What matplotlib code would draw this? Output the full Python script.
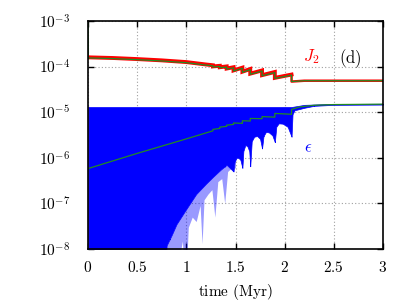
import matplotlib
matplotlib.use('Agg')
import matplotlib.pyplot as plt
import numpy as np

plt.rcParams['mathtext.fontset'] = 'cm'
plt.rcParams['font.family'] = 'serif'
plt.rcParams['font.serif'] = ['DejaVu Serif']

# ---- data ----
# J2 (running mean, green) with sawtooth steps
j2_t = [0.0, 0.003, 0.25, 0.5, 0.75, 1.0, 1.2, 1.27, 1.27, 1.34, 1.34, 1.41, 1.41,
        1.48, 1.48, 1.57, 1.57, 1.65, 1.65, 1.77, 1.77, 1.90, 1.90, 2.07, 2.07,
        2.2, 2.5, 3.0]
j2_v = [1e-3, 1.55e-4, 1.5e-4, 1.42e-4, 1.33e-4, 1.22e-4, 1.08e-4, 1.04e-4, 0.98e-4,
        1.01e-4, 0.94e-4, 0.98e-4, 0.88e-4, 0.94e-4, 0.80e-4, 0.92e-4, 0.75e-4,
        0.86e-4, 0.68e-4, 0.80e-4, 0.63e-4, 0.74e-4, 0.55e-4, 0.65e-4, 0.47e-4,
        0.49e-4, 0.49e-4, 0.49e-4]

# epsilon running mean (green)
eps_t = [0.0, 0.5, 1.0, 1.27, 1.27, 1.34, 1.34, 1.41, 1.41, 1.48, 1.48, 1.57, 1.57,
         1.65, 1.65, 1.77, 1.77, 1.90, 1.90, 2.07, 2.07, 2.15, 2.3, 2.5, 3.0]
eps_v = [5.8e-7, 1.25e-6, 2.6e-6, 3.9e-6, 4.2e-6, 4.4e-6, 4.7e-6, 4.9e-6, 5.2e-6,
         5.4e-6, 5.8e-6, 5.7e-6, 6.5e-6, 6.4e-6, 7.3e-6, 7.2e-6, 8.0e-6, 7.8e-6,
         9.4e-6, 9.0e-6, 1.15e-5, 1.3e-5, 1.42e-5, 1.47e-5, 1.5e-5]

# epsilon oscillation envelope (blue band)
up_t = [0.0, 2.07, 2.2, 2.5, 3.0]
up_v = [1.3e-5, 1.3e-5, 1.45e-5, 1.52e-5, 1.53e-5]
lo_t = [0.0, 0.76, 0.80, 0.85, 0.90, 0.99, 1.10, 1.20, 1.27, 1.35, 1.41, 1.48,
        1.49, 1.51, 1.53, 1.55, 1.57,
        1.58, 1.60, 1.62, 1.64, 1.65,
        1.665, 1.69, 1.72, 1.75, 1.77,
        1.785, 1.81, 1.84, 1.875, 1.90,
        1.915, 1.94, 1.98, 2.03, 2.07,
        2.08, 2.1, 2.2, 2.3, 2.5, 3.0]
lo_v = [1e-9, 1e-9, 1.2e-8, 2e-8, 3.5e-8, 7e-8, 1.6e-7, 2.7e-7, 3.8e-7, 5.5e-7, 7e-7, 5e-7,
        8e-7, 1.0e-6, 1.0e-6, 9e-7, 6e-7,
        1.4e-6, 1.9e-6, 1.8e-6, 1.4e-6, 6.5e-7,
        2.3e-6, 2.9e-6, 3.0e-6, 2.6e-6, 1.6e-6,
        3.0e-6, 3.7e-6, 3.6e-6, 3.1e-6, 2.2e-6,
        4.8e-6, 5.7e-6, 5.6e-6, 4.8e-6, 2.9e-6,
        9e-6, 1.1e-5, 1.25e-5, 1.38e-5, 1.45e-5, 1.47e-5]
# lighter fringe of downward spikes below the dense band
lf_t = [0.72, 0.78, 0.83, 0.88, 0.92, 0.96, 0.99, 1.02, 1.06, 1.10, 1.14, 1.16, 1.18,
        1.22, 1.26, 1.29, 1.32, 1.36, 1.39, 1.42, 1.46, 1.50]
lf_v = [1e-9, 1e-9, 1e-9, 8e-9, 5e-9, 1.5e-8, 1e-9, 3e-8, 5e-8, 4e-8, 9e-8, 1.3e-8,
        1.2e-7, 1.6e-7, 2e-7, 5e-8, 3e-7, 3.5e-7, 1e-7, 5e-7, 6e-7, 6e-7]

xticks = [0, 0.5, 1, 1.5, 2, 2.5, 3]
xticklabels = ['0', '0.5', '1', '1.5', '2', '2.5', '3']
yticks = [1e-8, 1e-7, 1e-6, 1e-5, 1e-4, 1e-3]
yticklabels = ['-8', '-7', '-6', '-5', '-4', '-3']


def logi(t, xp, fp):
    return 10 ** np.interp(t, xp, np.log10(fp))


# ---- figure ----
W, H = 415, 307
fig = plt.figure(figsize=(W / 100, H / 100), dpi=100)
ax = fig.add_axes([88 / W, 1 - 249 / H, (383 - 88) / W, (249 - 21) / H])

blue = '#0000ff'
red = '#ff0000'
green = '#228b22'

tt = np.unique(np.concatenate([np.linspace(0, 3, 3001), lo_t, up_t, lf_t]))
lo = logi(tt, lo_t, lo_v)
up = logi(tt, up_t, up_v)
ax.fill_between(tt, lo, up, color=blue, lw=0.5, edgecolor=blue, zorder=2)

tf = tt[(tt >= lf_t[0]) & (tt <= lf_t[-1])]
lf = np.minimum(logi(tf, lf_t, lf_v), logi(tf, lo_t, lo_v))
ax.fill_between(tf, lf, logi(tf, lo_t, lo_v), color=blue, alpha=0.4, lw=0, zorder=2)
ax.plot([0, 0], [1e-8, 1.3e-5], color='#5030c0', lw=1.0, zorder=2)

j2_t_a = np.array(j2_t)
j2_v_a = np.array(j2_v)
i_drop = len(j2_t) - 5  # index of the last point before the final drop
ax.plot(j2_t_a[1:i_drop + 1], j2_v_a[1:i_drop + 1] * 1.03, color=red, lw=2.8,
        solid_joinstyle='miter', zorder=3)
ax.plot(j2_t_a[i_drop:], j2_v_a[i_drop:], color=red, lw=1.8, zorder=3)
ax.plot(j2_t, j2_v, color=green, lw=0.9, zorder=4)
ax.plot(eps_t, eps_v, color=green, lw=0.9, zorder=4)

ax.set_yscale('log')
ax.set_xlim(0, 3)
ax.set_ylim(1e-8, 1e-3)
ax.set_xticks(xticks)
ax.set_xticklabels(['$' + s + '$' for s in xticklabels])
ax.set_yticks(yticks)
ax.set_yticklabels([r'$10^{' + s + '}$' for s in yticklabels])
ax.yaxis.set_minor_locator(matplotlib.ticker.NullLocator())
ax.tick_params(which='both', direction='in', top=True, right=True, length=4.5,
               width=1.0, labelsize=11)
ax.tick_params(axis='x', pad=8)
ax.tick_params(axis='y', pad=13)
ax.set_axisbelow(True)
ax.grid(True, which='major', color='#a0a0a0', linestyle=(0, (1, 2)), lw=0.8)
for s in ax.spines.values():
    s.set_linewidth(1.2)
    s.set_zorder(5)
ax.set_xlabel(r'$\mathrm{time\ (Myr)}$', fontsize=11, labelpad=5)

ax.text(2.27, 1.65e-4, r'$J_2$', color=red, fontsize=12, ha='center', va='center')
ax.text(2.67, 1.5e-4, r'$\mathrm{(d)}$', color='black', fontsize=12, ha='center', va='center')
ax.text(2.24, 1.7e-6, r'$\epsilon$', color=blue, fontsize=12, ha='center', va='center')

fig.savefig('out.png', dpi=100)
